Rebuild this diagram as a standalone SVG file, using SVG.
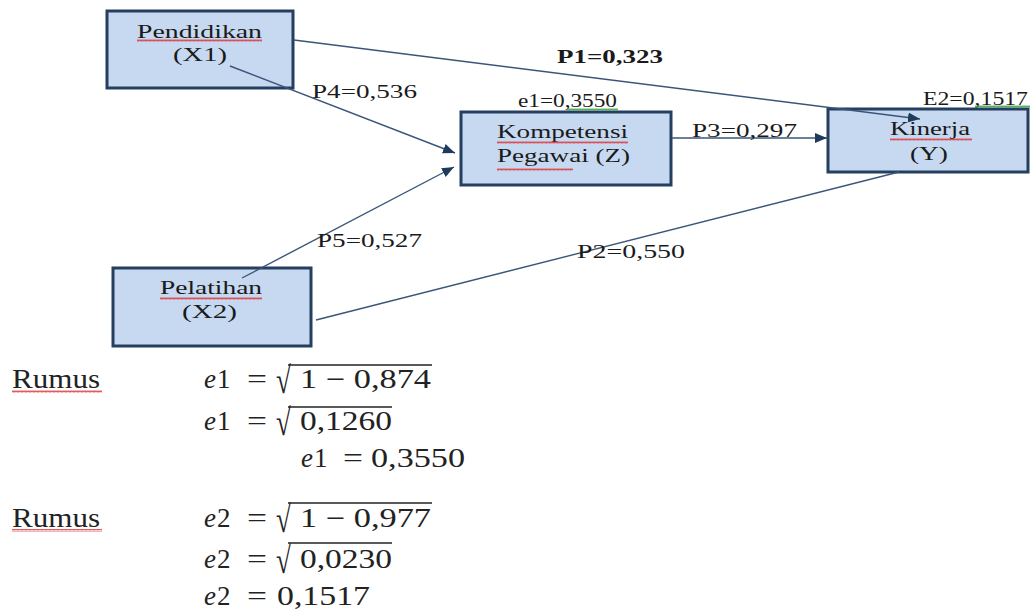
<svg xmlns="http://www.w3.org/2000/svg" width="1031" height="612" viewBox="0 0 1031 612">
<defs>
<style>
.box{fill:#c6d9f1;stroke:#243f60;stroke-width:3}
.lbl{font-family:"Liberation Serif","Times New Roman",serif;font-size:19px;fill:#1a1a1a}
.pl{font-family:"Liberation Serif","Times New Roman",serif;font-size:18px;fill:#1a1a1a}
.conn{stroke:#3a5578;stroke-width:1.4;fill:none}
.m{font-family:"Liberation Serif","Times New Roman",serif;font-size:27px;fill:#222}
.mi{font-style:italic}
.vin{stroke:#222;stroke-width:1.4}
</style>
<marker id="ah" viewBox="0 0 12 10" refX="12" refY="5" markerWidth="12" markerHeight="10" markerUnits="userSpaceOnUse" orient="auto">
<path d="M0 0 L12 5 L0 10 Z" fill="#1f3b5c"/>
</marker>
<pattern id="wr" width="4" height="3" patternUnits="userSpaceOnUse">
<path d="M0 2.5 L1 0.5 L2 2.5 L3 0.5 L4 2.5" stroke="#e03030" stroke-width="0.8" fill="none"/>
</pattern>
<pattern id="wg" width="4" height="3" patternUnits="userSpaceOnUse">
<path d="M0 2.5 L1 0.5 L2 2.5 L3 0.5 L4 2.5" stroke="#2e9a3a" stroke-width="0.8" fill="none"/>
</pattern>
</defs>
<rect width="1031" height="612" fill="#ffffff"/>

<g id="node-pendidikan">
<rect class="box" x="107" y="11" width="186" height="77"/>
<text class="lbl" x="137" y="38" textLength="125" lengthAdjust="spacingAndGlyphs">Pendidikan</text>
<rect x="137" y="39" width="125" height="3" fill="url(#wr)"/>
<text class="lbl" x="173" y="61" textLength="54" lengthAdjust="spacingAndGlyphs">(X1)</text>
</g>

<g id="node-kompetensi">
<rect class="box" x="461" y="112" width="210" height="73"/>
<text class="lbl" x="497" y="138" textLength="131" lengthAdjust="spacingAndGlyphs">Kompetensi</text>
<rect x="497" y="141" width="131" height="3" fill="url(#wr)"/>
<text class="lbl" x="497" y="162" textLength="133" lengthAdjust="spacingAndGlyphs">Pegawai (Z)</text>
<rect x="497" y="168" width="76" height="3" fill="url(#wr)"/>
</g>

<g id="node-kinerja">
<rect class="box" x="828" y="109" width="200" height="63"/>
<text class="lbl" x="890" y="135" textLength="80" lengthAdjust="spacingAndGlyphs">Kinerja</text>
<rect x="890" y="138" width="82" height="3" fill="url(#wr)"/>
<text class="lbl" x="910" y="160" textLength="38" lengthAdjust="spacingAndGlyphs">(Y)</text>
</g>

<g id="node-pelatihan">
<rect class="box" x="113" y="268" width="198" height="78"/>
<text class="lbl" x="160" y="294" textLength="102" lengthAdjust="spacingAndGlyphs">Pelatihan</text>
<rect x="160" y="297" width="102" height="3" fill="url(#wr)"/>
<text class="lbl" x="182" y="318" textLength="55" lengthAdjust="spacingAndGlyphs">(X2)</text>
</g>

<g id="connectors">
<line class="conn" x1="294" y1="40" x2="920" y2="119" marker-end="url(#ah)"/>
<line class="conn" x1="230" y1="66" x2="455" y2="153" marker-end="url(#ah)"/>
<line class="conn" x1="242" y1="278" x2="454" y2="167" marker-end="url(#ah)"/>
<line class="conn" x1="316" y1="320" x2="899" y2="172"/>
<line class="conn" x1="672" y1="138" x2="827" y2="138" marker-end="url(#ah)"/>
</g>

<g id="labels">
<text class="pl" x="557" y="63" font-weight="bold" textLength="106" lengthAdjust="spacingAndGlyphs">P1=0,323</text>
<text class="pl" x="312" y="98" textLength="105" lengthAdjust="spacingAndGlyphs">P4=0,536</text>
<text class="pl" x="518" y="107" font-size="16" textLength="99" lengthAdjust="spacingAndGlyphs">e1=0,3550</text>
<rect x="567" y="108" width="51" height="3" fill="url(#wg)"/>
<text class="pl" x="923" y="105" textLength="105" lengthAdjust="spacingAndGlyphs">E2=0,1517</text>
<rect x="975" y="105" width="55" height="3" fill="url(#wg)"/>
<text class="pl" x="692" y="137" textLength="105" lengthAdjust="spacingAndGlyphs">P3=0,297</text>
<text class="pl" x="317" y="247" textLength="105" lengthAdjust="spacingAndGlyphs">P5=0,527</text>
<text class="pl" x="577" y="258" textLength="108" lengthAdjust="spacingAndGlyphs">P2=0,550</text>
</g>

<g id="formula-e1">
<text class="m" x="12" y="388" font-size="26" textLength="88" lengthAdjust="spacingAndGlyphs">Rumus</text>
<rect x="12" y="390" width="90" height="3" fill="url(#wr)"/>
<text class="m" y="388"><tspan class="mi" x="204">e</tspan><tspan x="217">1</tspan></text>
<text class="m" x="247" y="388" textLength="20" lengthAdjust="spacingAndGlyphs">=</text>
<text class="m" transform="translate(276,393) scale(1,1.4)" x="0" y="0">√</text>
<line class="vin" x1="288" y1="365" x2="432" y2="365"/>
<text class="m" x="300" y="388" textLength="131" lengthAdjust="spacingAndGlyphs">1 − 0,874</text>
<text class="m" y="430"><tspan class="mi" x="204">e</tspan><tspan x="217">1</tspan></text>
<text class="m" x="247" y="430" textLength="20" lengthAdjust="spacingAndGlyphs">=</text>
<text class="m" transform="translate(276,435) scale(1,1.4)" x="0" y="0">√</text>
<line class="vin" x1="288" y1="407" x2="392" y2="407"/>
<text class="m" x="300" y="430" textLength="92" lengthAdjust="spacingAndGlyphs">0,1260</text>
<text class="m" y="467"><tspan class="mi" x="301">e</tspan><tspan x="314">1</tspan></text>
<text class="m" x="343" y="467" textLength="20" lengthAdjust="spacingAndGlyphs">=</text>
<text class="m" x="371" y="467" textLength="94" lengthAdjust="spacingAndGlyphs">0,3550</text>
</g>

<g id="formula-e2">
<text class="m" x="12" y="527" font-size="26" textLength="88" lengthAdjust="spacingAndGlyphs">Rumus</text>
<rect x="12" y="529" width="90" height="3" fill="url(#wr)"/>
<text class="m" y="527"><tspan class="mi" x="204">e</tspan><tspan x="217">2</tspan></text>
<text class="m" x="247" y="527" textLength="20" lengthAdjust="spacingAndGlyphs">=</text>
<text class="m" transform="translate(276,532) scale(1,1.4)" x="0" y="0">√</text>
<line class="vin" x1="288" y1="503" x2="432" y2="503"/>
<text class="m" x="300" y="527" textLength="131" lengthAdjust="spacingAndGlyphs">1 − 0,977</text>
<text class="m" y="568"><tspan class="mi" x="204">e</tspan><tspan x="217">2</tspan></text>
<text class="m" x="247" y="568" textLength="20" lengthAdjust="spacingAndGlyphs">=</text>
<text class="m" transform="translate(276,573) scale(1,1.4)" x="0" y="0">√</text>
<line class="vin" x1="288" y1="543" x2="392" y2="543"/>
<text class="m" x="300" y="568" textLength="92" lengthAdjust="spacingAndGlyphs">0,0230</text>
<text class="m" y="605"><tspan class="mi" x="204">e</tspan><tspan x="217">2</tspan></text>
<text class="m" x="247" y="605" textLength="20" lengthAdjust="spacingAndGlyphs">=</text>
<text class="m" x="277" y="605" textLength="93" lengthAdjust="spacingAndGlyphs">0,1517</text>
</g>
</svg>
